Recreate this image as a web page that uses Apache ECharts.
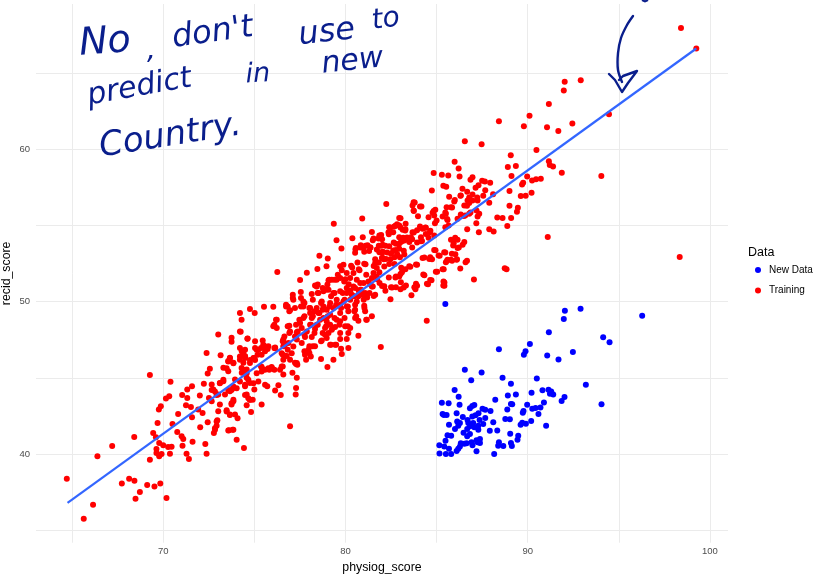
<!DOCTYPE html>
<html><head><meta charset="utf-8">
<style>html,body{margin:0;padding:0;background:#fff}#c{width:816px;height:576px}</style>
<script src="https://cdn.jsdelivr.net/npm/echarts@6/dist/echarts.min.js"></script>
</head><body><div id="c"></div>
<script>
const xTickLabels=[70,80,90,100];
const yTickLabels=[40,50,60];
const xGridValues=[65,70,75,80,85,90,95,100];
const yGridValues=[35,40,45,50,55,60,65];
const seriesNames=['New Data','Training'];
const fitLine=[[64.75,36.8],[99.25,66.62]];
const newDataPoints=[[85.48,49.85],[92.04,49.41],[92.9,49.54],[96.28,49.08],[91.98,48.86],[91.16,47.99],[94.14,47.66],[94.49,47.33],[90.12,47.22],[88.42,46.87],[89.88,46.74],[89.79,46.52],[91.07,46.46],[92.48,46.7],[91.69,46.21],[86.55,45.54],[87.47,45.36],[86.9,44.84],[88.62,45.01],[89.08,44.62],[90.5,44.95],[93.19,44.55],[85.99,44.2],[86.21,43.76],[90.81,44.18],[91.14,44.22],[91.29,44.11],[91.22,43.96],[91.4,43.9],[90.21,44.03],[89.35,43.9],[88.91,43.85],[92.02,43.74],[91.86,43.48],[88.22,43.57],[90.89,43.39],[85.29,43.37],[85.66,43.33],[86.26,43.24],[87.07,43.22],[86.96,43.15],[86.83,43],[89.08,43.28],[89.15,43.26],[89.97,43.24],[90.7,43.06],[90.43,43.02],[90.25,42.98],[94.05,43.26],[88.88,42.93],[89.77,42.82],[89.73,42.71],[90.59,42.63],[87.52,42.98],[87.67,42.91],[87.96,42.82],[85.33,42.63],[85.4,42.56],[85.55,42.56],[86.1,42.67],[87.3,42.67],[87.14,42.54],[86.96,42.47],[86.44,42.43],[87.67,42.36],[87.36,42.23],[86.7,42.23],[86.13,42.14],[88.11,42.08],[88.77,42.3],[89.02,42.28],[90.19,42.17],[89.7,42.06],[89.61,41.93],[89.9,41.99],[85.68,41.93],[86.28,42.04],[86.19,41.86],[86.01,41.64],[86.74,42.04],[87.01,42.04],[86.83,41.82],[87.29,41.86],[87.56,41.97],[87.07,41.75],[86.68,41.64],[87.29,41.6],[91.01,41.86],[87.92,41.53],[88.33,41.55],[86.48,41.4],[86.83,41.31],[86.68,41.16],[89.04,41.33],[85.6,41.23],[85.8,41.2],[89.48,41.2],[89.44,40.94],[85.49,40.88],[87.38,40.98],[87.19,40.9],[87.25,40.77],[87.38,40.72],[86.92,40.77],[86.33,40.7],[86.52,40.68],[86.65,40.7],[86.97,40.57],[88.42,40.77],[88.38,40.55],[88.66,40.53],[89.08,40.72],[89.13,40.53],[85.15,40.57],[85.42,40.5],[85.68,40.35],[86.28,40.5],[86.19,40.35],[86.1,40.2],[87.19,40.18],[85.16,40.04],[85.51,40],[85.8,40],[88.16,40]];
const trainingPoints=[[98.41,67.96],[99.25,66.62],[92.91,64.54],[92.03,64.43],[91.98,63.86],[91.16,62.98],[90.1,62.21],[88.42,61.84],[89.79,61.51],[91.06,61.45],[91.68,61.21],[92.45,61.69],[94.46,62.3],[86.55,60.53],[87.47,60.33],[90.48,59.96],[89.07,59.61],[85.99,59.19],[86.21,58.75],[88.91,58.84],[89.35,58.9],[91.16,59.21],[91.21,58.97],[91.39,58.88],[91.87,58.46],[94.04,58.25],[84.84,58.44],[85.29,58.33],[85.64,58.29],[86.26,58.22],[89.11,58.25],[89.97,58.22],[86.97,58.16],[86.86,58],[87.5,57.94],[87.65,57.89],[87.94,57.81],[90.72,58.07],[90.46,58.03],[90.24,57.96],[89.75,57.81],[89.69,57.7],[87.3,57.65],[87.14,57.48],[85.37,57.61],[85.53,57.54],[86.42,57.41],[87.67,57.32],[84.74,57.3],[86.68,57.21],[89,57.26],[90.21,57.15],[86.33,56.97],[85.69,56.89],[86.97,57.04],[87.56,56.95],[89.62,56.93],[89.89,56.95],[86.79,56.84],[87.23,56.84],[88.1,57.06],[86,56.67],
[98.34,52.93],[91.1,54.24],[88.74,52.2],[84.46,48.75],[81.94,47.02],
[82.24,56.42],[83.74,56.53],[84.09,56.25],[83.74,55.98],[83.68,56.31],[83.98,55.61],[82.95,55.5],[84.56,55.55],[84.78,55.83],[84.93,56.03],[84.87,55.66],[85,55.33],[84.91,55.15],[85.33,55.59],[85.55,56.2],[85.79,56.2],[85.51,55.77],[85.6,55.37],[85.66,55],[85.48,54.89],[86.15,55.44],[86.33,55.72],[86.57,55.66],[86.79,55.77],[87.19,55.98],[87.34,55.77],[87.25,55.59],[87.18,55.15],[86.68,54.76],[87.32,54.56],[87.89,54.76],[88.13,54.61],[88.33,55.53],[88.62,55.5],[89.09,55.5],[88.88,54.96],[89.41,55.9],[89.46,56.16],[89,56.29],[87.89,56.49],[86.79,56.47],[86.52,56.31],[86.7,56.64],[86.97,56.64],[87.25,56.64],[85.97,56.58],[82.95,55],[83.3,55.11],[82.68,54.93],[82.4,54.89],[82.36,54.56],[82.62,54.56],[83.14,54.72],[83.28,54.67],[82.95,54.23],[83.17,54.19],[82.77,53.8],[83.04,53.91],[83.23,54.02],[83.68,54.56],[83.59,54.23],[83.5,53.91],[84.14,54.23],[84.09,54.93],[84.23,54.78],[84.41,54.85],[84.63,54.56],[84.41,54.45],[84.56,54.19],[84.14,53.97],[84.87,54.34],[85.79,54.06],[86.02,54.19],[86.15,54.06],[85.91,53.69],[86.15,53.53],[86.43,53.73],[86.52,53.91],[84.87,53.4],[85.42,53.25],[85.11,53.03],[85.84,53.14],[84.65,52.92],[84.6,52.81],[84.23,52.86],[85.6,52.75],[85.51,52.59],[85.79,52.75],[86.1,52.75],[86.59,52.59],[86.3,52.18],[85.33,52.13],[84.96,51.96],[84.27,51.78],[83.87,52.44],[83.5,52.33],[84.65,51.43],[84.47,51.17],[83.87,51.17],[83.78,50.95],[85.38,51.32],[85.37,51.06],[87.05,51.46],[88.84,52.13],[81.86,54.34],[82.04,53.73],[81.86,53.25],[82.04,53.25],[82.4,53.64],[82.62,53.36],[82.77,53.4],[82.95,53.47],[82.5,53.14],[82.22,52.81],[82,52.86],[82.69,52.92],[82.99,52.92],[83.23,53.1],[82.4,52.48],[82.13,52.31],[82.69,52.48],[81.86,51.94],[83.06,52.22],[83.1,51.94],[82.77,51.65],[82.95,51.65],[83.04,51.28],[82.77,50.95],[82.5,50.95],[83.32,51.06],[82.13,51.02],
[80.92,55.46],[79.36,55.11],[79.51,54.04],[79.78,53.49],[78.57,53.01],[79.03,52.83],[80.38,54.17],[80.95,54.23],[81.45,54.58],[81.96,54.37],[81.81,54.15],[81.54,54.15],[81.5,54.04],[80.57,53.53],[80.53,53.21],[80.84,53.71],[80.99,53.53],[81.21,53.71],[81.36,53.56],[81.03,53.27],[81.3,53.32],[81.72,53.42],[81.96,53.67],[82.05,53.27],[81.63,52.79],[82.03,52.88],
[76.26,51.95],[77.88,51.9],[78.46,52.14],[78.96,52.32],[77.51,51.42],[78.33,51.07],[78.42,51],[79.07,51.4],[79.25,51.44],[79.52,51.44],[79.71,52.32],[79.89,52.43],[80.31,52.36],[80.66,52.58],[81.03,52.49],[79.8,52.06],[80.07,51.88],[80.44,51.88],[80.77,52.06],[81.14,51.77],[81.54,51.88],[81.63,52.54],[81.72,52.21],[79.58,51.77],[79.71,51.55],[79.93,51.33],[80.26,51.55],[80.62,51.44],[79.01,51.12],[77.55,50.63],[77.11,50.46],[77.14,50.13],[78.15,50.5],[78.52,50.57],[78.21,50.13],[78.79,50.68],[79.07,50.79],[79.34,50.57],[79.71,50.68],[80.07,50.9],[80.44,51],[80.81,50.79],[81.08,50.57],[81.45,51],[81.63,50.46],[81.87,51.23],[74.76,49.52],[75.02,49.26],[75.53,49.67],[76.04,49.67],[76.74,49.69],[76.96,49.43],[77.69,50.02],[77.69,49.69],[77.23,49.58],[78.7,50.02],[78.79,49.69],[78.06,49.58],[78.42,49.58],[78.06,49.26],[78.52,49.26],[79.16,49.91],[79.52,50.13],[79.71,49.8],[80.07,49.69],[80.53,49.8],[81,50.13],[81.17,50.46],[80.71,50.35],[80.53,49.47],[81.08,49.37],[81.45,49.04],[81.17,48.82],[80.53,48.93],[80.71,48.75],[80.16,49.37],[79.71,49.26],[79.16,49.15],[78.79,48.93],[76.23,48.82],[76.04,48.38],[76.23,48.27],[76.92,48.42],[77.51,48.6],[77.69,48.93],[77.6,48.27],[76.96,48.05],[77.33,47.99],[77.88,48.05],[78.33,48.21],[78.88,48.27],[79.16,48.49],[79.43,48.34],[79.98,48.38],[80.26,48.27],[80.16,47.94],[80.71,47.77],[79.71,47.94],[79.07,47.94],[78.97,47.61],[78.7,47.46],[78.15,47.68],[79.71,47.55],[80.07,47.55],[79.16,47.18],[79.43,47.18],[79.76,46.91],[80.16,46.96],[79.8,46.56],[79.34,46.19],[78.66,46.24],[79.01,45.71],[78.1,46.41],[77.78,46.52],[77.97,46.85],[78.33,47.07],[77.6,47.29],[77.33,47.51],[76.87,47.29],[76.59,47.51],[76.59,47.07],[76.14,47],[75.77,47.07],[75.49,47.18],[75.46,47.46],[75.04,47.4],[74.62,47.57],[75.04,46.96],[75.22,46.85],[75.59,46.74],[76.68,46.45],[76.59,46.19],[76.96,46.19],[77.33,45.97],[77.36,45.86],[76.5,45.75],[75.95,45.71],[75.4,45.71],[74.95,46.3],[74.21,46.96],[74.4,46.63],[74.49,46.3],[74.21,46.19],[74.76,45.97],[74.3,45.65],[74.21,48.05],[74.21,49.26],[74.3,48.82],[78.97,49.47],[79.34,49.58],[78.15,48.93],[78.61,48.82],[78.97,48.71],[78.42,48.49],[78.06,48.49],[77.23,47.72],[77.78,47.68],[79.52,48.82],[79.71,48.71],[79.25,48.16],[78.88,47.83],[80.07,50.57],[80.35,50.46],[80.9,50.46],[79.89,50.02],[80.26,50.13],[80.62,50.02],[81.03,49.74],[80.53,50.9],[81,51.23],[81.45,51.55],[81.72,51.66],[81.26,51.33],[80.81,51.23],
[69.27,45.18],[70.4,44.74],[73.02,47.85],[73.15,46.49],[72.38,46.64],[73.75,47.63],[73.75,47.37],[74.25,48.03],[74.63,47.59],[72.56,45.59],[72.44,45.29],[72.23,44.61],[72.66,44.56],[73.3,45.66],[73.57,46.1],[73.66,46.32],[73.85,45.99],[74.31,46.75],[74.49,46.42],[74.4,45.99],[74.58,45.55],[74.31,45.33],[73.57,45.44],[73.3,44.78],[73.11,44.67],[73.94,44.89],[74.58,45],[74.49,44.45],[74.76,44.67],[75,44.23],[74.58,43.9],[74.76,43.57],[74.91,43.57],[75.4,43.25],[75.71,44.45],[76.14,44.17],[76.32,44.52],[76.45,43.88],[77.27,43.9],[77.29,44.34],[76.96,41.82],[75.49,45.55],[75.95,45.66],[76.59,45.22],[77.09,45.33],[76.78,46.43],[77.23,45.99],[77.33,45],[74.58,43.2],[74.82,42.76],[73.94,42.59],[73.66,42.59],[73.48,42.87],[73.02,42.81],[73.85,43.46],[73.75,43.25],[73.11,43.25],[72.66,43.46],[72.51,43.68],[72.01,43.84],[72.75,44.23],[73.02,43.9],[73.39,43.9],[73.85,44.34],[73.66,44.12],[71.58,44.45],[71.32,44.23],[71.04,43.88],[71.32,43.68],[70.33,43.79],[70.15,43.64],[69.87,43.14],[69.76,42.92],[71.25,43.2],[71.52,43.09],[71.92,42.92],[72.16,42.7],[70.82,42.63],[71.58,42.41],[69.69,42.04],[70.51,41.97],[72.44,42.08],[72.97,42.21],[72.93,41.86],[72.84,41.6],[72.78,41.38],[72.03,41.75],[73.61,41.56],[73.81,41.6],[70.77,41.45],[71.01,41.16],[71.1,40.99],[71.61,40.81],[72.31,40.66],[74.03,40.94],[74.43,40.39],[69.45,41.38],[69.6,41.1],[69.78,40.72],[70,40.57],[70.27,40.46],[70.46,40.48],[71.06,40.55],[69.63,40.33],[70.37,40.02],[71.28,40.02],[72.38,40.02],[69.63,40.07],[69.91,40],[69.78,39.85],[69.27,39.63],[71.41,39.67],[68.41,41.12],
[64.71,38.38],[66.39,39.85],[67.2,40.53],[66.15,36.67],[65.64,35.75],[67.73,38.07],[68.13,38.38],[68.42,38.25],[69.12,37.96],[69.52,37.87],[69.84,38.07],[68.72,37.5],[68.48,37.06],[70.18,37.11]];
const trainingUpperCore=[[82.74,54.98],[82.47,54.87],[83.02,54.87],[83.29,54.76],[83.75,54.54],[83.93,54.69],[84.39,54.87],[84.66,54.65],[83.66,54.1],[83.38,54.21],[83.11,53.99],[82.93,53.77],[82.65,53.88],[82.38,54.43],[82.01,54.1],[81.83,53.67],[81.37,53.56],[81.1,53.67],[80.82,53.56],[80.55,53.45],[82.19,53.67],[82.29,53.23],[82.65,53.34],[82.84,53.12],[82.47,52.79],[82.1,52.79],[81.83,52.57],[81.55,52.35],[81.1,52.46],[80.73,52.13],[80.37,52.24],[83.2,53.34],[83.66,53.56],[84.2,53.99],[83.93,53.88],[83.29,52.13],[83.02,51.81],[82.74,51.59],[82.38,51.59],[82.01,51.03],[81.74,51.48],[81.37,51.15],[81,50.49],[81.19,50.27],[80.73,50.71],[80.27,50.71],[80.18,51.15],[80,51.48],[82.56,50.93],[83.02,50.82],[83.2,50.93],[82.19,50.71],[83.93,51.04],[83.84,50.82],[85.58,52.68],[85.85,52.68],[86.12,52.79],[86.03,54.1],[85.94,53.82],[86.22,53.56],[86.03,53.12],[86.67,52.68],[85.48,53.23],[85.17,53.01],[84.94,53.38],[85.39,52.13],[85.03,51.96],[84.33,52.9],[84.75,52.79],[83.93,52.42],[83.56,52.29],[84.33,51.74],[84.72,51.41],[84.53,51.15],[85.43,51.26],[85.43,51.04],[83.62,50.43],[82.47,50.16],[81.55,50.38],[84.84,55.96],[85.58,55.42],[85.48,55.85],[85.85,56.18],[86.49,55.63],[86.86,55.85],[86.67,56.29],[86.31,56.95],[83.8,56.51],[83.75,55.96],[84.17,56.25],[83.02,55.48],[82.83,55.09]];
const trainingMiddleCore=[[77.11,50.24],[77.56,50.24],[77.75,49.91],[77.56,49.69],[78.02,49.58],[78.3,49.37],[78.57,49.26],[78.75,49.47],[79.12,49.69],[79.49,49.8],[79.76,49.58],[80.13,49.69],[80.49,49.37],[81.04,49.58],[81.14,48.82],[80.59,49.04],[79.95,48.93],[79.4,48.93],[79.03,49.04],[78.21,49.04],[77.75,49.04],[77.47,48.82],[77.29,48.49],[78.11,48.49],[78.48,48.49],[78.94,48.38],[79.3,48.27],[79.67,48.49],[80.13,48.38],[76.83,48.38],[76.1,48.49],[76.19,48.82],[76.83,49.69],[76.74,49.8],[76.92,49.37],[77.38,48.05],[76.92,47.94],[76.65,47.72],[76.56,47.4],[77.75,47.83],[78.3,47.94],[78.75,47.94],[79.21,47.18],[79.49,47.18],[78.66,47.4],[78.21,47.07],[78.02,47.07],[77.75,46.74],[78.02,46.63],[77.84,46.19],[77.29,45.91],[76.83,46.85],[76.56,46.52],[76.56,45.75],[75.55,47.07],[75.73,46.89],[76.1,46.96],[75.37,46.96],[75.18,46.52],[75,46.3],[75.37,45.75],[75.82,45.54],[76.1,45.54],[78.66,49.91],[79.21,50.35],[79.95,50.13],[79.85,50.57],[79.4,50.57],[78.94,50.79],[78.48,50.57],[80.49,50.35],[80.86,50.79],[81.32,50.57],[78.48,51.12],[78.75,50.9],[79.4,51.44],[79.12,51.44],[81.5,51]];
const trainingLowerCore=[[73.75,44.21],[73.85,44.43],[74.03,44.32],[73.57,44.21],[73.3,44.87],[73.11,44.65],[72.84,44.1],[72.66,44.21],[72.93,43.88],[74.49,44.54],[74.67,44.87],[74.95,44.65],[75.22,44.76],[75.59,44.54],[74.49,43.88],[74.67,43.66],[74.76,43.56],[73.75,43.34],[73.85,43.56],[73.48,42.79],[73.66,42.57],[74.08,42.35],[72.93,42.13],[72.84,41.7],[73.57,41.54],[73.85,41.59],[74.21,44.76],[75.59,45.53],[75.77,45.63],[75.13,45.31],[75.4,45.42],[74.58,45.31],[74.4,45.53],[74.21,46.4],[74.49,46.4],[74.76,46.18],[75.04,46.18],[73.85,45.96],[73.57,46.07],[73.48,45.63],[73.66,46.29],[74.49,46.84],[75.13,46.84],[75.4,46.51],[75.59,47.06],[76.14,46.95],[75.95,45.63],[76.5,46.62],[76.41,45.53],[77.05,46.62],[77.14,47.06],[76.68,47.17],[76.59,47.39]];
const noteWords=[
 ['No',78,26,38,-4],[',',147,38,28,0],["don't",170,23,32,-8],['use',297,20,32,-6],['to',370,8,28,-8],
 ['predict',85,82,30,-10],['in',245,62,27,-3],['new',320,50,30,-6],
 ['Country.',97,131,34,-9]
];
const ink='#0A1E8C';
const chart=echarts.init(document.getElementById('c'),null,{renderer:'canvas'});
const graphics=noteWords.map(w=>({type:'text',x:w[1],y:w[2],rotation:-w[4]*Math.PI/180,z:50,
  style:{text:w[0],fill:ink,font:'italic '+w[3]+'px "DejaVu Sans"',textVerticalAlign:'top'}}));
graphics.push(
 {type:'polyline',z:50,shape:{points:[[633,16],[627,25],[621,38],[618,53],[618,70],[622,82]],smooth:0.3},style:{stroke:ink,lineWidth:2.4,fill:null,lineCap:'round'}},
 {type:'polyline',z:50,shape:{points:[[609,74],[615,80],[622,92],[628,83],[637,71],[623,76],[619,80]]},style:{stroke:ink,lineWidth:2.4,fill:null,lineCap:'round',lineJoin:'round'}},
 {type:'polyline',z:50,shape:{points:[[642,0],[645,1.5],[648,0]]},style:{stroke:ink,lineWidth:2,fill:null}},
 {type:'text',x:748,y:246,style:{text:'Data',fill:'#000',font:'12.5px "Liberation Sans"'}}
);
const gridMark={silent:true,symbol:'none',z:1,label:{show:false},animation:false,lineStyle:{color:'#EBEBEB',width:1,type:'solid'},
 data:[...xGridValues.map(v=>({xAxis:v})),...yGridValues.map(v=>({yAxis:v}))]};
chart.setOption({
 animation:false,backgroundColor:'#fff',
 grid:{left:36,right:88,top:4,bottom:33.3,containLabel:false,outerBoundsMode:'none'},
 xAxis:{type:'value',min:63.02,max:100.99,name:'physiog_score',nameLocation:'middle',nameGap:19,
  nameTextStyle:{color:'#000',fontFamily:'Liberation Sans',fontSize:12.3},
  axisLine:{show:false},axisTick:{show:false},splitLine:{show:false},
  axisLabel:{customValues:xTickLabels,color:'#4D4D4D',fontFamily:'Liberation Sans',fontSize:9.5,margin:4}},
 yAxis:{type:'value',min:34.18,max:69.54,name:'recid_score',nameLocation:'middle',nameGap:23,nameMoveOverlap:false,
  nameTextStyle:{color:'#000',fontFamily:'Liberation Sans',fontSize:12.3},
  axisLine:{show:false},axisTick:{show:false},splitLine:{show:false},
  axisLabel:{customValues:yTickLabels,color:'#4D4D4D',fontFamily:'Liberation Sans',fontSize:9.5,margin:6}},
 legend:{orient:'vertical',left:750,top:260,itemWidth:6,itemHeight:6,itemGap:10.6,icon:'circle',data:seriesNames,
  textStyle:{color:'#000',fontFamily:'Liberation Sans',fontSize:10,padding:[0,0,0,3]}},
 series:[
  {type:'scatter',name:'grid',data:[],z:0,silent:true,markLine:gridMark},
  {type:'scatter',name:seriesNames[0],data:newDataPoints,symbolSize:6,itemStyle:{color:'#0000FF',opacity:1},z:2,large:false},
  {type:'scatter',name:seriesNames[1],data:trainingPoints.concat(trainingUpperCore,trainingMiddleCore,trainingLowerCore),symbolSize:6,itemStyle:{color:'#FF0000',opacity:1},z:2,large:false},
  {type:'line',name:'fit',data:fitLine,symbol:'none',lineStyle:{color:'#3366FF',width:2.2},z:3,silent:true}
 ],
 graphic:graphics
});
</script></body></html>
